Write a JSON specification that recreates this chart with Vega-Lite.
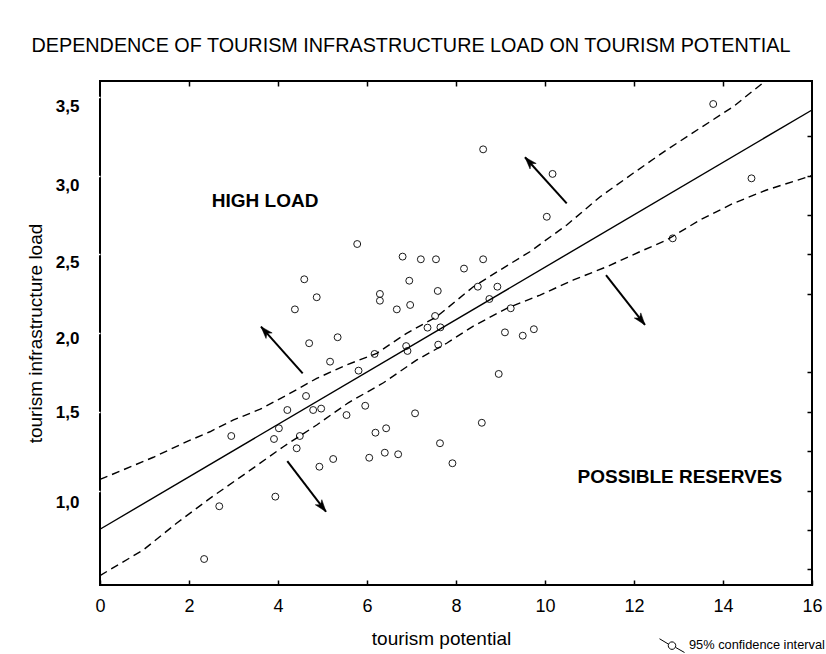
{
  "$schema": "https://vega.github.io/schema/vega-lite/v6.json",
  "autosize": {"type": "none"},
  "width": 712,
  "height": 504,
  "padding": {"left": 100, "top": 81, "right": 14, "bottom": 69},
  "background": "white",
  "title": {
    "text": "DEPENDENCE OF TOURISM INFRASTRUCTURE LOAD ON TOURISM POTENTIAL",
    "font": "Liberation Sans",
    "fontSize": 19.8,
    "fontWeight": "normal",
    "color": "black",
    "anchor": "middle",
    "dx": -45,
    "baseline": "alphabetic",
    "offset": 6
  },
  "config": {
    "view": {"stroke": "black", "strokeWidth": 2},
    "font": "Liberation Sans"
  },
  "datasets": {
    "points": [
      {"x": 2.34, "y": 0.565}, {"x": 2.68, "y": 0.9}, {"x": 2.95, "y": 1.346}, {"x": 3.94, "y": 0.961},
      {"x": 3.91, "y": 1.327}, {"x": 4.02, "y": 1.395}, {"x": 4.21, "y": 1.511}, {"x": 4.63, "y": 1.6},
      {"x": 4.49, "y": 1.346}, {"x": 4.42, "y": 1.268}, {"x": 4.79, "y": 1.511}, {"x": 4.97, "y": 1.52},
      {"x": 4.93, "y": 1.151}, {"x": 5.24, "y": 1.2}, {"x": 5.54, "y": 1.479}, {"x": 5.96, "y": 1.538},
      {"x": 5.81, "y": 1.761}, {"x": 5.17, "y": 1.818}, {"x": 4.7, "y": 1.935}, {"x": 5.34, "y": 1.973},
      {"x": 6.19, "y": 1.367}, {"x": 6.43, "y": 1.395}, {"x": 6.05, "y": 1.208}, {"x": 6.4, "y": 1.24},
      {"x": 6.7, "y": 1.23}, {"x": 6.17, "y": 1.867}, {"x": 6.88, "y": 1.917}, {"x": 6.91, "y": 1.886},
      {"x": 7.08, "y": 1.49}, {"x": 5.78, "y": 2.565}, {"x": 6.8, "y": 2.485}, {"x": 7.21, "y": 2.468},
      {"x": 7.55, "y": 2.468}, {"x": 4.59, "y": 2.341}, {"x": 6.95, "y": 2.332}, {"x": 4.87, "y": 2.227},
      {"x": 6.29, "y": 2.248}, {"x": 6.29, "y": 2.205}, {"x": 7.59, "y": 2.267}, {"x": 4.38, "y": 2.15},
      {"x": 6.67, "y": 2.15}, {"x": 6.97, "y": 2.178}, {"x": 7.53, "y": 2.108}, {"x": 7.36, "y": 2.034},
      {"x": 7.65, "y": 2.036}, {"x": 7.6, "y": 1.926}, {"x": 8.61, "y": 2.468}, {"x": 8.18, "y": 2.409},
      {"x": 8.49, "y": 2.294}, {"x": 8.93, "y": 2.294}, {"x": 8.75, "y": 2.216}, {"x": 9.23, "y": 2.157},
      {"x": 9.1, "y": 2.004}, {"x": 9.5, "y": 1.983}, {"x": 9.75, "y": 2.024}, {"x": 8.96, "y": 1.74},
      {"x": 8.58, "y": 1.43}, {"x": 7.64, "y": 1.3}, {"x": 7.92, "y": 1.173}, {"x": 13.78, "y": 3.454},
      {"x": 8.61, "y": 3.166}, {"x": 10.17, "y": 3.01}, {"x": 10.04, "y": 2.738}, {"x": 14.64, "y": 2.982},
      {"x": 12.87, "y": 2.601}
    ],
    "fit": [
      {"x": 0, "y": 0.754}, {"x": 16, "y": 3.416}
    ],
    "ci": [
      {"x": 0, "y": 1.07, "bound": "upper", "series": "95% confidence interval"},
      {"x": 1.2, "y": 1.211, "bound": "upper", "series": "95% confidence interval"},
      {"x": 1.95, "y": 1.31, "bound": "upper", "series": "95% confidence interval"},
      {"x": 2.47, "y": 1.373, "bound": "upper", "series": "95% confidence interval"},
      {"x": 3.0, "y": 1.448, "bound": "upper", "series": "95% confidence interval"},
      {"x": 3.6, "y": 1.516, "bound": "upper", "series": "95% confidence interval"},
      {"x": 4.2, "y": 1.606, "bound": "upper", "series": "95% confidence interval"},
      {"x": 4.87, "y": 1.712, "bound": "upper", "series": "95% confidence interval"},
      {"x": 5.54, "y": 1.797, "bound": "upper", "series": "95% confidence interval"},
      {"x": 6.22, "y": 1.871, "bound": "upper", "series": "95% confidence interval"},
      {"x": 6.89, "y": 1.998, "bound": "upper", "series": "95% confidence interval"},
      {"x": 7.57, "y": 2.104, "bound": "upper", "series": "95% confidence interval"},
      {"x": 8.39, "y": 2.294, "bound": "upper", "series": "95% confidence interval"},
      {"x": 8.99, "y": 2.4, "bound": "upper", "series": "95% confidence interval"},
      {"x": 9.66, "y": 2.516, "bound": "upper", "series": "95% confidence interval"},
      {"x": 10.49, "y": 2.686, "bound": "upper", "series": "95% confidence interval"},
      {"x": 11.24, "y": 2.865, "bound": "upper", "series": "95% confidence interval"},
      {"x": 11.98, "y": 3.014, "bound": "upper", "series": "95% confidence interval"},
      {"x": 12.73, "y": 3.162, "bound": "upper", "series": "95% confidence interval"},
      {"x": 13.48, "y": 3.3, "bound": "upper", "series": "95% confidence interval"},
      {"x": 14.23, "y": 3.437, "bound": "upper", "series": "95% confidence interval"},
      {"x": 14.95, "y": 3.6, "bound": "upper", "series": "95% confidence interval"},
      {"x": 0, "y": 0.46, "bound": "lower", "series": "95% confidence interval"},
      {"x": 0.97, "y": 0.622, "bound": "lower", "series": "95% confidence interval"},
      {"x": 1.72, "y": 0.792, "bound": "lower", "series": "95% confidence interval"},
      {"x": 2.47, "y": 0.95, "bound": "lower", "series": "95% confidence interval"},
      {"x": 3.22, "y": 1.098, "bound": "lower", "series": "95% confidence interval"},
      {"x": 4.12, "y": 1.278, "bound": "lower", "series": "95% confidence interval"},
      {"x": 4.87, "y": 1.416, "bound": "lower", "series": "95% confidence interval"},
      {"x": 5.58, "y": 1.557, "bound": "lower", "series": "95% confidence interval"},
      {"x": 6.37, "y": 1.684, "bound": "lower", "series": "95% confidence interval"},
      {"x": 7.12, "y": 1.829, "bound": "lower", "series": "95% confidence interval"},
      {"x": 7.79, "y": 1.935, "bound": "lower", "series": "95% confidence interval"},
      {"x": 8.39, "y": 2.044, "bound": "lower", "series": "95% confidence interval"},
      {"x": 9.14, "y": 2.157, "bound": "lower", "series": "95% confidence interval"},
      {"x": 9.89, "y": 2.241, "bound": "lower", "series": "95% confidence interval"},
      {"x": 10.64, "y": 2.337, "bound": "lower", "series": "95% confidence interval"},
      {"x": 11.39, "y": 2.421, "bound": "lower", "series": "95% confidence interval"},
      {"x": 12.13, "y": 2.516, "bound": "lower", "series": "95% confidence interval"},
      {"x": 12.73, "y": 2.59, "bound": "lower", "series": "95% confidence interval"},
      {"x": 13.48, "y": 2.717, "bound": "lower", "series": "95% confidence interval"},
      {"x": 14.23, "y": 2.823, "bound": "lower", "series": "95% confidence interval"},
      {"x": 14.98, "y": 2.908, "bound": "lower", "series": "95% confidence interval"},
      {"x": 16, "y": 3.0, "bound": "lower", "series": "95% confidence interval"}
    ],
    "arrows": [
      {"tx": 4.555, "ty": 1.744, "hx": 3.618, "hy": 2.04, "dir": "ul"},
      {"tx": 4.209, "ty": 1.187, "hx": 5.079, "hy": 0.865, "dir": "dr"},
      {"tx": 10.488, "ty": 2.823, "hx": 9.551, "hy": 3.116, "dir": "ul"},
      {"tx": 11.371, "ty": 2.368, "hx": 12.247, "hy": 2.051, "dir": "dr"}
    ],
    "labels": [
      {"x": 3.71, "y": 2.835, "text": "HIGH LOAD"},
      {"x": 13.03, "y": 1.088, "text": "POSSIBLE RESERVES"}
    ]
  },
  "resolve": {"axis": {"x": "independent", "y": "independent"}},
  "layer": [
    {
      "data": {"name": "points"},
      "mark": {"type": "point", "shape": "circle", "filled": false, "stroke": "#1a1a1a", "strokeWidth": 1, "size": 48, "opacity": 1},
      "encoding": {
        "x": {
          "field": "x", "type": "quantitative",
          "scale": {"domain": [0, 16], "nice": false, "zero": false},
          "axis": {
            "orient": "bottom", "values": [0, 2, 4, 6, 8, 10, 12, 14, 16], "format": "d",
            "labelFontSize": 18, "labelColor": "black", "labelFont": "Liberation Sans", "labelPadding": 17,
            "labelFlush": false, "labelOverlap": false,
            "tickSize": -5, "tickColor": "black", "tickWidth": 1.5, "domain": false, "grid": false,
            "title": "tourism potential", "titleFont": "Liberation Sans", "titleFontSize": 19, "titleFontWeight": "normal",
            "titleColor": "black", "titleX": 341, "titleY": 53, "titleBaseline": "middle"
          }
        },
        "y": {
          "field": "y", "type": "quantitative",
          "scale": {"domain": [0.4, 3.6], "nice": false, "zero": false},
          "axis": {
            "orient": "left", "values": [1, 1.5, 2, 2.5, 3, 3.5],
            "labelExpr": "replace(format(datum.value, '.1f'), '.', ',')",
            "labelFontSize": 17, "labelFontWeight": "bold", "labelColor": "black", "labelFont": "Liberation Sans",
            "labelPadding": 15,
            "labelOffset": {"condition": [{"test": "datum.value === 1", "value": 12}, {"test": "datum.value === 1.5", "value": 1}, {"test": "datum.value === 2", "value": 5}, {"test": "datum.value === 2.5", "value": 8}], "value": 10},
            "tickSize": 6, "tickColor": "white", "tickWidth": 1.5, "domain": false, "grid": false,
            "title": "tourism infrastructure load", "titleFont": "Liberation Sans", "titleFontSize": 19, "titleFontWeight": "normal",
            "titleColor": "black", "titleX": -65, "titleY": 252, "titleBaseline": "middle"
          }
        }
      }
    },
    {
      "data": {"name": "fit"},
      "mark": {"type": "line", "stroke": "black", "strokeWidth": 1.4},
      "encoding": {
        "x": {
          "field": "x", "type": "quantitative",
          "axis": {"orient": "top", "values": [2, 4, 6, 8, 10, 12, 14], "labels": false, "tickSize": -5, "tickColor": "black", "tickWidth": 1.5, "domain": false, "grid": false, "title": null}
        },
        "y": {
          "field": "y", "type": "quantitative",
          "axis": {"orient": "right", "values": [0.5, 0.75, 1, 1.25, 1.5, 1.75, 2.25, 2.5, 2.75, 3, 3.25], "labels": false, "tickSize": -5, "tickColor": "black", "tickWidth": 1.5, "domain": false, "grid": false, "title": null}
        }
      }
    },
    {
      "data": {"name": "ci"},
      "mark": {"type": "line", "strokeWidth": 1.4, "strokeDash": [8, 5]},
      "encoding": {
        "x": {"field": "x", "type": "quantitative", "axis": null},
        "y": {"field": "y", "type": "quantitative", "axis": null},
        "detail": {"field": "bound"},
        "color": {
          "field": "series", "type": "nominal",
          "scale": {"range": ["black"]},
          "legend": {
            "orient": "none", "legendX": 559, "legendY": 551, "title": null, "padding": 0,
            "symbolType": "M-1,-0.5 L-0.3,-0.08 M0.3,0.2 L1,0.6 M0.3,0.05 A0.3,0.3 0 1 1 -0.3,0.05 A0.3,0.3 0 1 1 0.3,0.05",
            "symbolSize": 625, "symbolStrokeWidth": 1, "symbolStrokeColor": "black", "symbolFillColor": "transparent",
            "symbolDash": [], "labelFontSize": 12.8, "labelColor": "black", "labelFont": "Liberation Sans", "labelOffset": 4
          }
        }
      }
    },
    {
      "data": {"name": "arrows"},
      "mark": {"type": "rule", "stroke": "black", "strokeWidth": 2},
      "encoding": {
        "x": {"field": "tx", "type": "quantitative", "axis": null},
        "y": {"field": "ty", "type": "quantitative", "axis": null},
        "x2": {"field": "hx"},
        "y2": {"field": "hy"}
      }
    },
    {
      "data": {"name": "arrows"},
      "transform": [{"filter": "datum.dir === 'ul'"}],
      "mark": {"type": "point", "shape": "M0,0 L0.75,2.2 L0,1.6 L-0.75,2.2 Z", "filled": true, "fill": "black", "stroke": "black", "strokeWidth": 0.5, "size": 121, "angle": 318, "opacity": 1},
      "encoding": {
        "x": {"field": "hx", "type": "quantitative", "axis": null},
        "y": {"field": "hy", "type": "quantitative", "axis": null}
      }
    },
    {
      "data": {"name": "arrows"},
      "transform": [{"filter": "datum.dir === 'dr'"}],
      "mark": {"type": "point", "shape": "M0,0 L0.75,2.2 L0,1.6 L-0.75,2.2 Z", "filled": true, "fill": "black", "stroke": "black", "strokeWidth": 0.5, "size": 121, "angle": 142, "opacity": 1},
      "encoding": {
        "x": {"field": "hx", "type": "quantitative", "axis": null},
        "y": {"field": "hy", "type": "quantitative", "axis": null}
      }
    },
    {
      "data": {"name": "labels"},
      "mark": {"type": "text", "font": "Liberation Sans", "fontSize": 19, "fontWeight": "bold", "color": "black", "align": "center", "baseline": "middle"},
      "encoding": {
        "x": {"field": "x", "type": "quantitative", "axis": null},
        "y": {"field": "y", "type": "quantitative", "axis": null},
        "text": {"field": "text"}
      }
    }
  ]
}
